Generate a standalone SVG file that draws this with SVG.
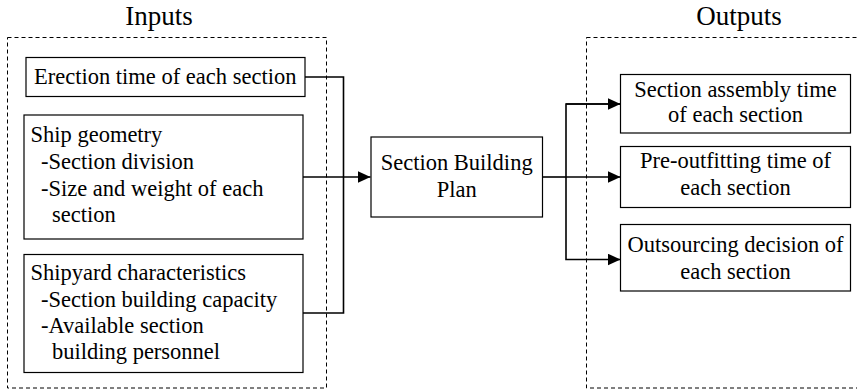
<svg xmlns="http://www.w3.org/2000/svg" width="857" height="390" viewBox="0 0 857 390">
  <style>
    text { font-family: "Liberation Serif", "Times New Roman", Times, serif; fill: #000; }
    .t { font-size: 22.5px; }
    .title { font-size: 27px; text-anchor: middle; }
    .c { text-anchor: middle; }
    .box { fill: #fff; stroke: #000; stroke-width: 1.2; }
    .frame { fill: none; stroke: #000; stroke-width: 1; stroke-dasharray: 4 3; }
    .conn { fill: none; stroke: #000; stroke-width: 1.6; }
  </style>
  <defs>
    <marker id="arrow" markerWidth="13" markerHeight="12" refX="13" refY="6" orient="auto" markerUnits="userSpaceOnUse">
      <path d="M0,0 L13,6 L0,12 Z" fill="#000"/>
    </marker>
  </defs>
  <rect width="857" height="390" fill="#fff"/>

  <!-- group frames -->
  <g id="inputs-frame">
    <rect class="frame" x="7.5" y="37.5" width="319" height="350.5"/>
    <text class="title" x="159" y="25">Inputs</text>
  </g>
  <g id="outputs-frame">
    <rect class="frame" x="586.5" y="37.5" width="280" height="350.5"/>
    <text class="title" x="739" y="25">Outputs</text>
  </g>

  <!-- connectors -->
  <g id="connectors">
    <polyline class="conn" points="305,77 343.5,77 343.5,313 303,313"/>
    <line class="conn" x1="303" y1="177" x2="370.5" y2="177" marker-end="url(#arrow)"/>
    <line class="conn" x1="542.5" y1="177" x2="566" y2="177"/>
    <polyline class="conn" points="620.5,104 566,104 566,259.5 620.5,259.5" marker-end="url(#arrow)"/>
    <line class="conn" x1="566" y1="177" x2="620.5" y2="177" marker-end="url(#arrow)"/>
    <line class="conn" x1="566" y1="104" x2="620.5" y2="104" marker-end="url(#arrow)"/>
  </g>

  <!-- input nodes -->
  <g id="erection-time">
    <rect class="box" x="26" y="57.5" width="279" height="39"/>
    <text class="t" x="34" y="84">Erection time of each section</text>
  </g>
  <g id="ship-geometry">
    <rect class="box" x="24" y="115" width="279" height="124"/>
    <text class="t" x="30.5" y="142">Ship geometry</text>
    <text class="t" x="41" y="169">-Section division</text>
    <text class="t" x="41" y="196">-Size and weight of each</text>
    <text class="t" x="52" y="222">section</text>
  </g>
  <g id="shipyard-characteristics">
    <rect class="box" x="24" y="254.5" width="279" height="118"/>
    <text class="t" x="30.5" y="280">Shipyard characteristics</text>
    <text class="t" x="41" y="307">-Section building capacity</text>
    <text class="t" x="41" y="333">-Available section</text>
    <text class="t" x="52" y="359">building personnel</text>
  </g>

  <!-- central node -->
  <g id="section-building-plan">
    <rect class="box" x="371" y="137" width="171.5" height="80"/>
    <text class="t c" x="456.7" y="170">Section Building</text>
    <text class="t c" x="456.7" y="197">Plan</text>
  </g>

  <!-- output nodes -->
  <g id="assembly-time">
    <rect class="box" x="620.5" y="74.5" width="230" height="58.5"/>
    <text class="t c" x="735.5" y="97">Section assembly time</text>
    <text class="t c" x="735.5" y="122">of each section</text>
  </g>
  <g id="pre-outfitting-time">
    <rect class="box" x="620.5" y="146.5" width="230" height="61"/>
    <text class="t c" x="735.5" y="168">Pre-outfitting time of</text>
    <text class="t c" x="735.5" y="195">each section</text>
  </g>
  <g id="outsourcing-decision">
    <rect class="box" x="620.5" y="224.5" width="230" height="66.5"/>
    <text class="t c" x="735.5" y="252">Outsourcing decision of</text>
    <text class="t c" x="735.5" y="278.5">each section</text>
  </g>
</svg>
